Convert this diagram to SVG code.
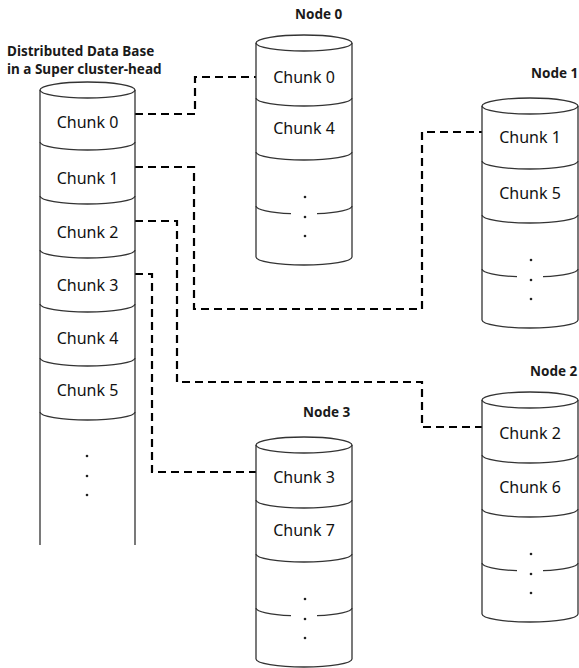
<svg xmlns="http://www.w3.org/2000/svg" width="579" height="668" viewBox="0 0 579 668">
<defs>
<style>
.cyl{fill:none;stroke:#333;stroke-width:1.3}
.bg{fill:#fff;stroke:none}
.conn{fill:none;stroke:#000;stroke-width:2.2;stroke-dasharray:8 5}
.ck{font-family:"Noto Sans","DejaVu Sans",sans-serif;font-size:16px;fill:#111;text-anchor:middle}
.lb{font-family:"Noto Sans","DejaVu Sans",sans-serif;font-size:13.5px;font-weight:bold;fill:#1a1a1a}
.dot{fill:#222}
</style>
<g id="nodecyl">
<path class="bg" d="M0 0 V214 A48 8 0 0 0 96 214 V0 Z"/>
<ellipse class="cyl" cx="48" cy="0" rx="48" ry="8"/>
<path class="cyl" d="M0 0 V214 A48 8 0 0 0 96 214 V0"/>
<path class="cyl" d="M0 55 A48 8 0 0 0 96 55"/>
<path class="cyl" d="M0 109 A48 8 0 0 0 96 109"/>
<path class="cyl" d="M0 163 A48 8 0 0 0 35 170.7 M61 170.7 A48 8 0 0 0 96 163"/>
<circle class="dot" cx="49" cy="154" r="1.3"/>
<circle class="dot" cx="49" cy="174" r="1.3"/>
<circle class="dot" cx="49" cy="193" r="1.3"/>
</g>
</defs>
<rect width="579" height="668" fill="#fff"/>

<g id="connectors">
<path class="conn" d="M135 114 H195 V77 H256"/>
<path class="conn" d="M135 167 H194 V309 H422 V132 H482"/>
<path class="conn" d="M135 221 H177 V382 H422 V427 H482"/>
<path class="conn" d="M135 274 H152 V472 H256"/>
</g>

<g id="database">
<text class="lb" x="7" y="56">Distributed Data Base</text>
<text class="lb" x="7" y="74">in a Super cluster-head</text>
<ellipse class="cyl" cx="87.5" cy="90" rx="47.5" ry="8"/>
<path class="cyl" d="M40 90 V545 M135 90 V545"/>
<path class="cyl" d="M40 142 A47.5 8 0 0 0 135 142"/>
<path class="cyl" d="M40 196 A47.5 8 0 0 0 135 196"/>
<path class="cyl" d="M40 250 A47.5 8 0 0 0 135 250"/>
<path class="cyl" d="M40 304 A47.5 8 0 0 0 135 304"/>
<path class="cyl" d="M40 358 A47.5 8 0 0 0 135 358"/>
<path class="cyl" d="M40 412 A47.5 8 0 0 0 135 412"/>
<text class="ck" x="87.5" y="128">Chunk 0</text>
<text class="ck" x="87.5" y="184">Chunk 1</text>
<text class="ck" x="87.5" y="238">Chunk 2</text>
<text class="ck" x="87.5" y="291">Chunk 3</text>
<text class="ck" x="87.5" y="344">Chunk 4</text>
<text class="ck" x="87.5" y="396">Chunk 5</text>
<circle class="dot" cx="87" cy="456" r="1.3"/>
<circle class="dot" cx="87" cy="476" r="1.3"/>
<circle class="dot" cx="87" cy="495" r="1.3"/>
</g>

<g id="node0">
<text class="lb" x="295" y="19">Node 0</text>
<use href="#nodecyl" x="256" y="43"/>
<text class="ck" x="304" y="83">Chunk 0</text>
<text class="ck" x="304" y="134">Chunk 4</text>
</g>

<g id="node1">
<text class="lb" x="531" y="78">Node 1</text>
<use href="#nodecyl" x="482" y="106"/>
<text class="ck" x="530" y="143">Chunk 1</text>
<text class="ck" x="530" y="199">Chunk 5</text>
</g>

<g id="node2">
<text class="lb" x="530" y="376">Node 2</text>
<use href="#nodecyl" x="482" y="400"/>
<text class="ck" x="530" y="439">Chunk 2</text>
<text class="ck" x="530" y="493">Chunk 6</text>
</g>

<g id="node3">
<text class="lb" x="303" y="417">Node 3</text>
<use href="#nodecyl" x="256" y="445"/>
<text class="ck" x="304" y="483">Chunk 3</text>
<text class="ck" x="304" y="536">Chunk 7</text>
</g>
</svg>
